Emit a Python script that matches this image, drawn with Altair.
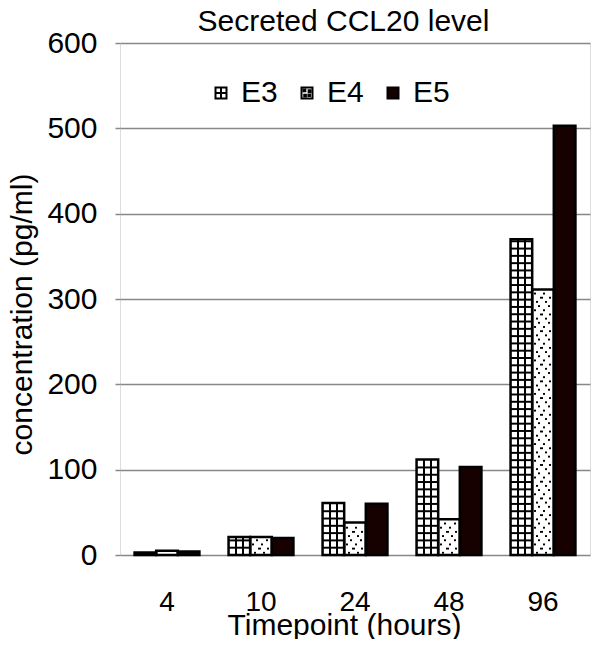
import altair as alt
import pandas as pd

timepoints = ["4", "10", "24", "48", "96"]
series = ["E3", "E4", "E5"]
e3 = [3, 21, 61, 112, 370]
e4 = [5, 21, 38, 42, 311]
e5 = [4, 20, 60, 103, 503]

FONT = "Liberation Sans"
GRAY = "#888888"

rows = []
for t, a, b, c in zip(timepoints, e3, e4, e5):
    rows += [dict(t=t, s="E3", v=a), dict(t=t, s="E4", v=b), dict(t=t, s="E5", v=c)]
df = pd.DataFrame(rows)

# pattern rows built from the values (texture of the hatched bars)
GRID_P, GRID_H = 8.55, 2.3
grid_rows = []
for t, v in zip(timepoints, e3):
    k = 1
    while k * GRID_P + GRID_H / 2 < v - 1:
        grid_rows.append(dict(t=t, s="E3", v=k * GRID_P - GRID_H / 2, v2=k * GRID_P + GRID_H / 2))
        k += 1
grid_df = pd.DataFrame(grid_rows)

DOT_P, DOT_H = 4.9, 2.2
dot_rows = []
for t, v in zip(timepoints, e4):
    k = 0
    while 1.5 + k * DOT_P + DOT_H < v - 1.5:
        y0 = 1.5 + k * DOT_P
        dot_rows.append(dict(t=t, s="E4", v=y0, v2=y0 + DOT_H, kind=k % 4))
        k += 1
dot_df = pd.DataFrame(dot_rows)


def stripes(centers, w):
    stops = [alt.GradientStop(color="white", offset=0)]
    for c in centers:
        a, b = c - w / 2, c + w / 2
        stops += [
            alt.GradientStop(color="white", offset=a),
            alt.GradientStop(color="black", offset=a),
            alt.GradientStop(color="black", offset=b),
            alt.GradientStop(color="white", offset=b),
        ]
    stops.append(alt.GradientStop(color="white", offset=1))
    return alt.Gradient(gradient="linear", x1=0, x2=1, y1=0, y2=0, stops=stops)


xscale = alt.Scale(domain=timepoints, paddingInner=0.31, paddingOuter=0.155)
xoscale = alt.Scale(domain=series)
yscale = alt.Scale(domain=[0, 600], nice=False)

xaxis = alt.Axis(
    title="Timepoint (hours)", labelAngle=0, labelFont=FONT, labelFontSize=28,
    labelColor="black", labelPadding=33, ticks=False, domain=False,
    titleFont=FONT, titleFontSize=30, titleFontWeight="normal", titleColor="black",
    titleX=224, titleY=79, titleBaseline="alphabetic",
)
yaxis = alt.Axis(
    title="concentration (pg/ml)", values=[0, 100, 200, 300, 400, 500, 600],
    labelFont=FONT, labelFontSize=30, labelColor="black", labelPadding=18,
    tickSize=5, tickColor=GRAY, tickWidth=1.5, gridColor=GRAY, gridWidth=1.5,
    gridOpacity=1, domain=False,
    titleFont=FONT, titleFontSize=30, titleFontWeight="normal", titleColor="black",
    titleX=-89, titleY=271, titleBaseline="alphabetic", titleAngle=270,
)

legend = alt.Legend(
    title=None, orient="none", legendX=86, legendY=35, direction="horizontal",
    symbolSize=121, labelFont=FONT, labelFontSize=30, labelColor="black",
    labelOffset=5, columnPadding=14, symbolStrokeColor="black",
    symbolStrokeWidth=2, symbolOpacity=1, padding=0,
)

fill_scale = alt.Scale(domain=series, range=["#ffffff", "#ffffff", "#160000"])

X = alt.X("t:N", scale=xscale, axis=xaxis)
XO = alt.XOffset("s:N", scale=xoscale)
Y = alt.Y("v:Q", scale=yscale, axis=yaxis)

base = alt.Chart(df).mark_bar().encode(
    x=X, xOffset=XO, y=Y,
    color=alt.Color("s:N", scale=fill_scale, legend=legend),
)

e3_fill = alt.Chart(df).transform_filter(alt.datum.s == "E3").mark_bar(
    fill=stripes([0.345, 0.665], 0.08)
).encode(x=X, xOffset=XO, y=Y)

e3_lines = alt.Chart(grid_df).mark_bar(color="black").encode(
    x=X, xOffset=XO, y=Y, y2="v2:Q"
)

dot_patterns = [[0.22, 0.64], [0.43, 0.84], [0.12, 0.55], [0.33, 0.76]]
dot_layers = []
for i, centers in enumerate(dot_patterns):
    dot_layers.append(
        alt.Chart(dot_df).transform_filter(alt.datum.kind == i).mark_bar(
            fill=stripes(centers, 0.095)
        ).encode(x=X, xOffset=XO, y=Y, y2="v2:Q")
    )

outline = alt.Chart(df).mark_bar(fillOpacity=0, stroke="black", strokeWidth=2.5).encode(
    x=X, xOffset=XO, y=Y
)

shape_paths = [
    "M-1,-1H1V1H-1Z M0,-1V1 M-1,0H1",
    "M-1,-1H1V1H-1Z M-0.6,-0.6h0.3v0.3h-0.3Z M0.3,-0.5h0.3v0.3h-0.3Z M-0.5,0.3h0.3v0.3h-0.3Z M0.25,0.25h0.3v0.3h-0.3Z",
    "square",
]
legend_pts = alt.Chart(df).mark_point(filled=True, opacity=0, strokeWidth=2).encode(
    x=X, xOffset=XO, y=Y,
    color=alt.Color("s:N", scale=fill_scale, legend=legend),
    stroke=alt.Stroke("s:N", scale=alt.Scale(domain=series, range=["black", "black", "black"]), legend=legend),
    shape=alt.Shape("s:N", scale=alt.Scale(domain=series, range=shape_paths), legend=legend),
)

chart = alt.layer(base, e3_fill, e3_lines, *dot_layers, outline, legend_pts).properties(
    width=470, height=512,
    title=alt.Title("Secreted CCL20 level", font=FONT, fontSize=30, fontWeight="normal",
                    color="black", anchor="middle", dx=-11.5, dy=13),
    autosize=alt.AutoSizeParams(type="none"),
    padding={"left": 112, "top": 35, "right": 2, "bottom": 84},
).configure_view(stroke=GRAY, strokeWidth=2).configure(background="white")

chart.save("out.html", embed_options={"renderer": "svg", "actions": False})
